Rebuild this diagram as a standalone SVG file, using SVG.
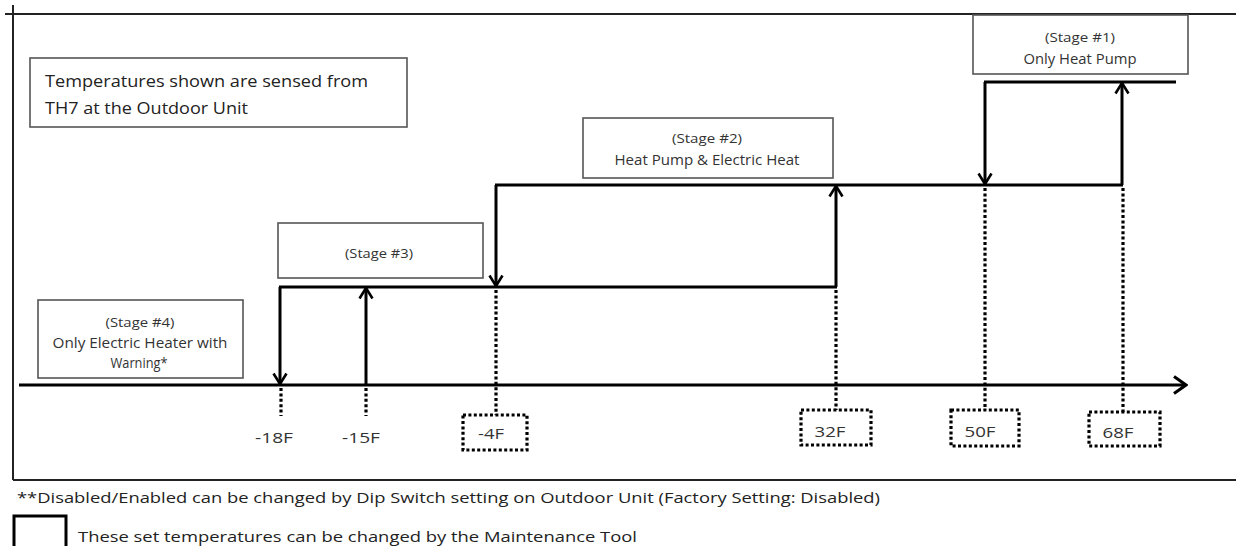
<svg xmlns="http://www.w3.org/2000/svg" width="1236" height="546" viewBox="0 0 1236 546">
<style>
.frame{stroke:#222;stroke-width:2;fill:none}
.box{fill:#fff;stroke:#555;stroke-width:1.6}
.t{font-family:"Open Sans","Liberation Sans",sans-serif;fill:#333;text-anchor:middle;dominant-baseline:central}
.tl{font-family:"Open Sans","Liberation Sans",sans-serif;fill:#222;dominant-baseline:central}
.solid{stroke:#000;stroke-width:3;fill:none}
.dot{stroke:#000;stroke-width:3.2;stroke-dasharray:3 2.4;fill:none}
.dbox{fill:#fff;stroke:#000;stroke-width:3.2;stroke-dasharray:3 2.4}
</style>
<defs>
<marker id="arr" viewBox="0 0 14 16" refX="12" refY="8" markerWidth="14" markerHeight="16" markerUnits="userSpaceOnUse" orient="auto">
<path d="M1.5,1.5 L12,8 L1.5,14.5" fill="none" stroke="#000" stroke-width="2.6"/>
</marker>
<marker id="arrBig" viewBox="0 0 16 20" refX="14" refY="10" markerWidth="16" markerHeight="20" markerUnits="userSpaceOnUse" orient="auto">
<path d="M2,1.5 L14,10 L2,18.5" fill="none" stroke="#000" stroke-width="3"/>
</marker>
</defs>
<rect width="1236" height="546" fill="#fff"/>
<g id="frame">
<path class="frame" d="M5,14 H1236"/>
<path class="frame" d="M13,5 V480"/>
<path class="frame" d="M13,480 H1236" stroke="#555"/>
</g>
<g id="note">
<rect class="box" x="30" y="58" width="377" height="69"/>
<text class="tl" x="45" y="81" font-size="16" textLength="323" lengthAdjust="spacingAndGlyphs">Temperatures shown are sensed from</text>
<text class="tl" x="45" y="108" font-size="16" textLength="203" lengthAdjust="spacingAndGlyphs">TH7 at the Outdoor Unit</text>
</g>
<g id="stage1">
<rect class="box" x="973" y="15" width="215" height="59"/>
<text class="t" x="1080" y="37" font-size="13" textLength="70" lengthAdjust="spacingAndGlyphs">(Stage #1)</text>
<text class="t" x="1080" y="58" font-size="14" textLength="113" lengthAdjust="spacingAndGlyphs">Only Heat Pump</text>
</g>
<g id="stage2">
<rect class="box" x="583" y="118" width="250" height="60"/>
<text class="t" x="707" y="138" font-size="13" textLength="70" lengthAdjust="spacingAndGlyphs">(Stage #2)</text>
<text class="t" x="707" y="159" font-size="14" textLength="185" lengthAdjust="spacingAndGlyphs">Heat Pump &amp; Electric Heat</text>
</g>
<g id="stage3">
<rect class="box" x="278" y="223" width="205" height="55"/>
<text class="t" x="379" y="253" font-size="13" textLength="68" lengthAdjust="spacingAndGlyphs">(Stage #3)</text>
</g>
<g id="stage4">
<rect class="box" x="38" y="300" width="205" height="78"/>
<text class="t" x="140" y="322" font-size="13" textLength="69" lengthAdjust="spacingAndGlyphs">(Stage #4)</text>
<text class="t" x="140" y="342" font-size="14" textLength="175" lengthAdjust="spacingAndGlyphs">Only Electric Heater with</text>
<text class="t" x="139" y="362" font-size="14" textLength="57" lengthAdjust="spacingAndGlyphs">Warning*</text>
</g>
<g id="connectors">
<path class="solid" d="M19,385 H1186" marker-end="url(#arrBig)"/>
<path class="solid" d="M279,287 H837"/>
<path class="solid" d="M495,185 H1123"/>
<path class="solid" d="M984,82 H1176"/>
<path class="solid" d="M280,287 V384" marker-end="url(#arr)"/>
<path class="solid" d="M366,385 V288" marker-end="url(#arr)"/>
<path class="solid" d="M496,185 V286" marker-end="url(#arr)"/>
<path class="solid" d="M836,287 V186" marker-end="url(#arr)"/>
<path class="solid" d="M985,82 V184" marker-end="url(#arr)"/>
<path class="solid" d="M1122,185 V83" marker-end="url(#arr)"/>
<path class="dot" d="M281,388 V416"/>
<path class="dot" d="M366,388 V416"/>
<path class="dot" d="M496,290 V415"/>
<path class="dot" d="M836,290 V410"/>
<path class="dot" d="M985,188 V410"/>
<path class="dot" d="M1123,188 V412"/>
</g>
<g id="t-18">
<text class="t" x="274" y="437" font-size="15" textLength="38" lengthAdjust="spacingAndGlyphs">-18F</text>
</g>
<g id="t-15">
<text class="t" x="361" y="437" font-size="15" textLength="38" lengthAdjust="spacingAndGlyphs">-15F</text>
</g>
<g id="t-4">
<rect class="dbox" x="463" y="415" width="64" height="35"/>
<text class="t" x="491" y="433" font-size="15" textLength="26" lengthAdjust="spacingAndGlyphs">-4F</text>
</g>
<g id="t32">
<rect class="dbox" x="801" y="410" width="70" height="35"/>
<text class="t" x="830" y="431" font-size="15" textLength="31" lengthAdjust="spacingAndGlyphs">32F</text>
</g>
<g id="t50">
<rect class="dbox" x="951" y="410" width="68" height="36"/>
<text class="t" x="980" y="431" font-size="15" textLength="31" lengthAdjust="spacingAndGlyphs">50F</text>
</g>
<g id="t68">
<rect class="dbox" x="1089" y="412" width="71" height="34"/>
<text class="t" x="1118" y="432" font-size="15" textLength="31" lengthAdjust="spacingAndGlyphs">68F</text>
</g>
<g id="footer">
<text class="tl" x="17" y="497" font-size="15" textLength="863" lengthAdjust="spacingAndGlyphs" fill="#111">**Disabled/Enabled can be changed by Dip Switch setting on Outdoor Unit (Factory Setting: Disabled)</text>
<rect x="14" y="516" width="52" height="34" fill="#fff" stroke="#000" stroke-width="3"/>
<text class="tl" x="78" y="536" font-size="15" textLength="559" lengthAdjust="spacingAndGlyphs" fill="#111">These set temperatures can be changed by the Maintenance Tool</text>
</g>
</svg>
